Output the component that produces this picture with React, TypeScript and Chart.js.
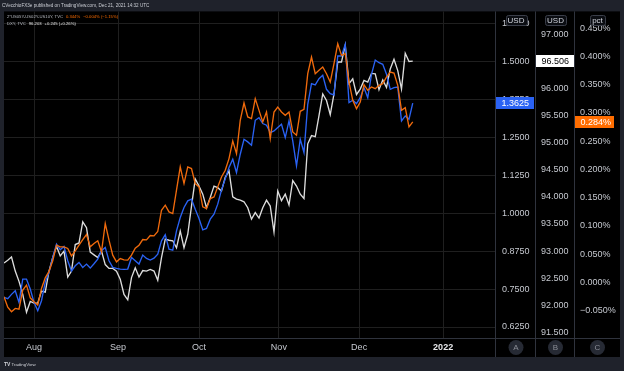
import React, { useEffect, useRef } from 'react';
import { Chart, registerables } from 'chart.js';

Chart.register(...registerables);

// DXY (white, middle USD scale)
const dxyValues = [
  92.78, 92.83, 92.89, 92.63, 92.44, 92.20, 91.87, 92.07, 92.04, 92.04,
  92.26, 92.24, 92.63, 92.88, 93.09, 92.91, 93.00, 92.52, 92.63, 93.12,
  93.15, 93.54, 93.43, 92.98, 92.93, 92.88, 93.00, 92.75, 92.68, 92.68,
  92.63, 92.48, 92.20, 92.10, 92.51, 92.69, 92.52, 92.64, 92.63, 92.66,
  92.63, 92.46, 92.88, 93.22, 93.20, 93.19, 93.06, 93.37, 93.06, 93.31,
  93.83, 94.33, 94.20, 94.05, 93.80, 93.99, 94.20, 94.17, 94.11, 94.36,
  94.48, 94.00, 93.96, 93.94, 93.91, 93.80, 93.59, 93.71, 93.61, 93.80,
  93.94, 93.83, 93.35, 94.11, 93.93, 94.05, 93.85, 94.30, 94.20, 94.05,
  93.97, 94.98, 95.13, 95.11, 95.50, 95.90, 95.78, 95.52, 95.90, 96.49,
  96.49, 96.80, 96.09, 96.18, 95.89, 95.99, 96.15, 96.12, 96.28, 96.27,
  95.98, 96.16, 96.02, 96.36, 96.54, 96.33, 95.99, 96.65, 96.50, 96.506,
];

// blue series (left USD scale)
const spreadValues = [
  0.7226, 0.7182, 0.7325, 0.7445, 0.7062, 0.7829, 0.7829, 0.7500, 0.7062, 0.6787,
  0.7116, 0.7730, 0.8048, 0.8542, 0.8980, 0.8794, 0.8904, 0.8432, 0.8092, 0.8268,
  0.8377, 0.8213, 0.8322, 0.8191, 0.8333, 0.8487, 0.8761, 0.8871, 0.8432, 0.8213,
  0.8180, 0.8158, 0.8147, 0.8158, 0.8542, 0.8432, 0.8322, 0.8619, 0.8509, 0.8454,
  0.8520, 0.8651, 0.9090, 0.9287, 0.8816, 0.8783, 0.9419, 0.9858, 1.0187, 1.0406,
  1.0461, 1.0132, 0.9825, 0.9452, 0.9496, 0.9803, 0.9967, 1.0296, 1.0768, 1.1130,
  1.1502, 1.1776, 1.1338, 1.1941, 1.2434, 1.2347, 1.2237, 1.3059, 1.3147, 1.2950,
  1.2895, 1.2654, 1.2708, 1.2818, 1.2928, 1.2489, 1.3037, 1.2380, 1.1557, 1.2434,
  1.1996, 1.3586, 1.4266, 1.4222, 1.4430, 1.4540, 1.4079, 1.3937, 1.3893, 1.5176,
  1.5176, 1.5559, 1.3641, 1.3717, 1.3608, 1.3805, 1.4134, 1.3805, 1.4573, 1.5044,
  1.4956, 1.4901, 1.4573, 1.4079, 1.4134, 1.4156, 1.3037, 1.3202, 1.3092, 1.3625,
];

// 2*US05Y-US02Y-US10Y (orange, pct scale)
const curveValues = [
  -0.0253, -0.0436, -0.0518, -0.0459, -0.0471, -0.0135, -0.0047, -0.0271, -0.0341, -0.0400,
  -0.0106, 0.0083, 0.0195, 0.0383, 0.0660, 0.0630, 0.0630, 0.0601, 0.0471, 0.0560,
  0.0660, 0.0760, 0.0848, 0.0630, 0.0689, 0.0737, 0.0542, 0.1043, 0.0748, 0.0483,
  0.0365, 0.0424, 0.0401, 0.0395, 0.0483, 0.0607, 0.0660, 0.0760, 0.0754, 0.0831,
  0.0825, 0.0901, 0.1278, 0.1367, 0.1249, 0.1219, 0.1632, 0.2044, 0.1750, 0.2044,
  0.2015, 0.1750, 0.1691, 0.1337, 0.1308, 0.1485, 0.1514, 0.1691, 0.1867, 0.1985,
  0.2191, 0.2504, 0.2280, 0.2869, 0.3175, 0.2928, 0.2898, 0.3252, 0.3045, 0.2839,
  0.3016, 0.2545, 0.3016, 0.3104, 0.3016, 0.2957, 0.3016, 0.2663, 0.2604, 0.3028,
  0.3063, 0.3693, 0.3988, 0.3693, 0.3752, 0.3811, 0.3693, 0.3546, 0.3870, 0.4223,
  0.4017, 0.4047, 0.3546, 0.3222, 0.3075, 0.3193, 0.3499, 0.3399, 0.3458, 0.3428,
  0.3487, 0.3517, 0.3634, 0.3723, 0.3705, 0.3487, 0.3045, 0.3093, 0.2751, 0.284,
];

const monthLabels = ['Aug', 'Sep', 'Oct', 'Nov', 'Dec', '2022'];
const monthBars = [8, 30.4, 52, 73.3, 94.7, 117.1];
const spreadTicks = [0.625, 0.75, 0.875, 1.0, 1.125, 1.25, 1.375, 1.5, 1.625];
const dxyTicks = [91.5, 92, 92.5, 93, 93.5, 94, 94.5, 95, 95.5, 96, 96.5, 97];
const pctTicks = [-0.05, 0, 0.05, 0.1, 0.15, 0.2, 0.25, 0.3, 0.35, 0.4, 0.45];
const axisTitles = ['USD', 'USD', 'pct'];
const axisBadges = ['A', 'B', 'C'];
const headerText = 'CVecchioFX3e published on TradingView.com, Dec 21, 2021 14:32 UTC';
const curveLegend = ['2*US05Y-US02Y-US10Y, TVC', '0.344%', '\u22120.004% (\u22121.15%)'];
const dxyLegend = ['DXY, TVC', '96.203', '+0.245 (+0.26%)'];

const FRAME = '#1f222b';
const ORANGE = '#f06a0c';
const ORANGE_TAG = '#ff6d00';
const BLUE = '#2a62f3';
const WHITE = '#dcdcdc';
const GRID = '#1f1f1f';
const TEXT = '#c6c9d0';
const SEP = '#2f333d';
const FONT = '"Liberation Sans", Arial, sans-serif';

const fmtPct = (v: number) => {
  const s = Math.abs(v).toFixed(3) + '%';
  return v < -1e-9 ? '\u2212' + s : s;
};

const framePlugin = {
  id: 'tvFrame',
  beforeDraw(chart: any) {
    const { ctx, width, height, chartArea } = chart;
    const yC = chart.scales.yC;
    const x = chart.scales.x;
    ctx.save();
    ctx.fillStyle = FRAME;
    ctx.fillRect(0, 0, width, height);
    ctx.fillStyle = '#000000';
    ctx.fillRect(chartArea.left, chartArea.top, yC.right - chartArea.left, x.bottom - chartArea.top);
    ctx.restore();
  },
  afterDraw(chart: any) {
    const { ctx, chartArea } = chart;
    const { x, yA, yB, yC } = chart.scales;
    ctx.save();

    // separators
    ctx.strokeStyle = SEP;
    ctx.lineWidth = 1;
    ctx.beginPath();
    [yA.left, yB.left, yC.left].forEach((px: number) => {
      const p = Math.round(px) - 0.5;
      ctx.moveTo(p, chartArea.top);
      ctx.lineTo(p, x.bottom);
    });
    const hy = Math.round(x.top) + 0.5;
    ctx.moveTo(chartArea.left, hy);
    ctx.lineTo(yC.right, hy);
    ctx.stroke();

    // header
    ctx.textBaseline = 'middle';
    ctx.textAlign = 'left';
    ctx.fillStyle = '#c9ccd3';
    ctx.font = `4.6px ${FONT}`;
    ctx.fillText(headerText, 2, 5.5);

    // legend
    ctx.font = `4.2px ${FONT}`;
    let lx = 7;
    ctx.fillStyle = '#b9bcc4';
    ctx.fillText(curveLegend[0], lx, 16.5);
    lx += ctx.measureText(curveLegend[0]).width + 3;
    ctx.fillStyle = ORANGE_TAG;
    ctx.fillText(curveLegend[1], lx, 16.5);
    lx += ctx.measureText(curveLegend[1]).width + 3;
    ctx.fillText(curveLegend[2], lx, 16.5);

    lx = 7;
    ctx.fillStyle = '#b9bcc4';
    ctx.fillText(dxyLegend[0], lx, 23.5);
    lx += ctx.measureText(dxyLegend[0]).width + 3;
    ctx.fillStyle = '#e6e6e6';
    ctx.fillText(dxyLegend[1], lx, 23.5);
    lx += ctx.measureText(dxyLegend[1]).width + 3;
    ctx.fillText(dxyLegend[2], lx, 23.5);

    // axis titles
    ctx.font = `8px ${FONT}`;
    ctx.textAlign = 'center';
    [yA, yB, yC].forEach((s: any, i: number) => {
      const cx = (s.left + s.right) / 2;
      const w = ctx.measureText(axisTitles[i]).width + 4;
      ctx.fillStyle = '#0b0d12';
      ctx.strokeStyle = '#3a3e49';
      ctx.beginPath();
      ctx.roundRect(Math.round(cx - w / 2) + 0.5, 15.5, Math.round(w), 10, 2);
      ctx.fill();
      ctx.stroke();
      ctx.fillStyle = '#d1d4dc';
      ctx.fillText(axisTitles[i], cx, 20.8);
    });

    // last value tags
    const tag = (s: any, value: number, text: string, bg: string, fg: string, w: number) => {
      const py = s.getPixelForValue(value);
      ctx.fillStyle = bg;
      ctx.fillRect(s.left, Math.round(py) - 6, w, 12);
      ctx.fillStyle = fg;
      ctx.font = `9px ${FONT}`;
      ctx.textAlign = 'left';
      ctx.fillText(text, s.left + 5.5, py + 0.5);
    };
    const lastA = spreadValues[spreadValues.length - 1];
    const lastB = dxyValues[dxyValues.length - 1];
    const lastC = curveValues[curveValues.length - 1];
    tag(yA, lastA, lastA.toFixed(4), BLUE, '#ffffff', 38);
    tag(yB, lastB, lastB.toFixed(3), '#ffffff', '#000000', 38);
    tag(yC, lastC, fmtPct(lastC), ORANGE_TAG, '#ffffff', 39);

    // bottom badges
    ctx.font = `8px ${FONT}`;
    ctx.textAlign = 'center';
    [yA, yB, yC].forEach((s: any, i: number) => {
      const cx = (s.left + s.right) / 2;
      const cy = (x.top + x.bottom) / 2;
      ctx.fillStyle = '#262a34';
      ctx.beginPath();
      ctx.arc(cx, cy, 7.5, 0, Math.PI * 2);
      ctx.fill();
      ctx.fillStyle = '#8b8e97';
      ctx.fillText(axisBadges[i], cx, cy + 0.5);
    });

    // footer
    ctx.textAlign = 'left';
    ctx.fillStyle = '#d0d2d8';
    ctx.font = `bold 5px ${FONT}`;
    ctx.fillText('TV', 4, 364.5);
    ctx.font = `4.4px ${FONT}`;
    ctx.fillText('TradingView', 11.5, 364.5);

    ctx.restore();
  },
};

const yAxis = (min: number, max: number, ticks: number[], weight: number, width: number, grid: boolean, fmt: (v: number) => string, pad: number) => ({
  type: 'linear' as const,
  position: 'right' as const,
  weight,
  min,
  max,
  afterBuildTicks: (s: any) => {
    s.ticks = ticks.map((v) => ({ value: v }));
  },
  afterFit: (s: any) => {
    s.width = width;
  },
  grid: { display: grid, color: GRID, drawTicks: false, lineWidth: 1 },
  border: { display: false },
  ticks: {
    autoSkip: false,
    padding: pad,
    crossAlign: 'near' as const,
    color: TEXT,
    font: { family: FONT, size: 9 },
    callback: (v: any) => fmt(Number(v)),
  },
});

export default function App() {
  const ref = useRef<HTMLCanvasElement>(null);

  useEffect(() => {
    const canvas = ref.current;
    if (!canvas) return;
    const barIndex = dxyValues.map((_, i) => i);
    const line = (data: number[], color: string, axis: string, label: string) => ({
      label,
      data,
      yAxisID: axis,
      borderColor: color,
      backgroundColor: color,
      borderWidth: 1.35,
      pointRadius: 0,
      tension: 0,
      fill: false,
    });
    const chart = new Chart(canvas, {
      type: 'line',
      data: {
        labels: barIndex,
        datasets: [
          line(curveValues, ORANGE, 'yC', '2*US05Y-US02Y-US10Y'),
          line(spreadValues, BLUE, 'yA', 'spread'),
          line(dxyValues, WHITE, 'yB', 'DXY'),
        ],
      },
      options: {
        animation: false,
        responsive: false,
        devicePixelRatio: 1,
        layout: { padding: { left: 4, top: 11, right: 4, bottom: 14 } },
        plugins: { legend: { display: false }, tooltip: { enabled: false } },
        scales: {
          x: {
            type: 'linear',
            min: 0,
            max: 131.2,
            afterBuildTicks: (s: any) => {
              s.ticks = monthBars.map((v) => ({ value: v }));
            },
            afterFit: (s: any) => {
              s.height = 19;
            },
            grid: { color: GRID, drawTicks: false, lineWidth: 1 },
            border: { display: false },
            ticks: {
              autoSkip: false,
              maxRotation: 0,
              padding: 4,
              color: (c: any) => (c.index === 5 ? '#e6e7ea' : TEXT),
              font: (c: any) => ({ family: FONT, size: 9, weight: c.index === 5 ? 'bold' : 'normal' }),
              callback: (_v: any, i: number) => monthLabels[i],
            },
          },
          yA: yAxis(0.5888, 1.6645, spreadTicks, 1, 40, true, (v) => v.toFixed(4), 6),
          yB: yAxis(91.395, 97.424, dxyTicks, 2, 39, false, (v) => v.toFixed(3), 5),
          yC: yAxis(-0.0982, 0.4795, pctTicks, 3, 45, false, fmtPct, 5),
        },
      } as any,
      plugins: [framePlugin],
    });
    return () => chart.destroy();
  }, []);

  return (
    <div style={{ position: 'fixed', left: 0, top: 0, width: 624, height: 371 }}>
      <canvas ref={ref} width={624} height={371} style={{ display: 'block', width: 624, height: 371 }} />
    </div>
  );
}
